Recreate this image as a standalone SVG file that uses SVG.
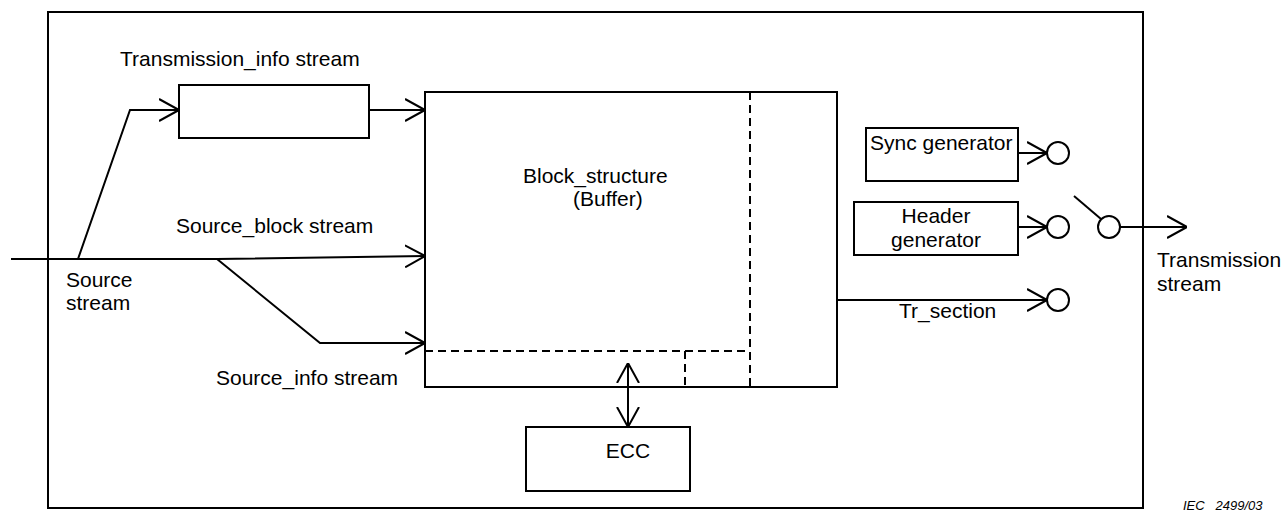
<svg xmlns="http://www.w3.org/2000/svg" width="1282" height="512" viewBox="0 0 1282 512">
<defs>
<style>
.ln{fill:none;stroke:#000;stroke-width:2}
.ds{fill:none;stroke:#000;stroke-width:2;stroke-dasharray:8,5}
.bx{fill:#fff;stroke:#000;stroke-width:2}
.t{font-family:"Liberation Sans",Arial,sans-serif;font-size:21px;fill:#000}
.c{text-anchor:middle}
</style>
<marker id="ah" viewBox="0 0 20 24" refX="20" refY="12" markerWidth="20" markerHeight="24" markerUnits="userSpaceOnUse" orient="auto">
<path d="M0,1 L20,12 L0,23" fill="none" stroke="#000" stroke-width="2"/>
</marker>
</defs>
<rect x="48" y="12" width="1095" height="496" fill="#fff" stroke="#000" stroke-width="2"/>

<g id="tinfo">
<rect class="bx" x="179" y="85" width="190" height="53"/>
<text class="t" x="120" y="66">Transmission_info stream</text>
</g>
<g id="block">
<rect class="bx" x="425" y="92" width="412" height="295"/>
<line class="ds" x1="750" y1="92" x2="750" y2="387"/>
<line class="ds" x1="425" y1="351" x2="750" y2="351"/>
<line class="ds" x1="685" y1="351" x2="685" y2="387"/>
<text class="t" x="523" y="183">Block_structure</text>
<text class="t" x="573" y="206">(Buffer)</text>
</g>
<g id="ecc">
<rect class="bx" x="526" y="427" width="164" height="64"/>
<text class="t c" x="628" y="458">ECC</text>
</g>
<g id="sync">
<rect class="bx" x="866" y="128" width="152" height="53"/>
<text class="t" x="870" y="150">Sync generator</text>
<circle class="bx" cx="1058" cy="153" r="11"/>
</g>
<g id="header">
<rect class="bx" x="854" y="202" width="164" height="53"/>
<text class="t c" x="936" y="223">Header</text>
<text class="t c" x="936" y="247">generator</text>
<circle class="bx" cx="1058" cy="227" r="11"/>
</g>
<g id="trsec">
<circle class="bx" cx="1058" cy="300" r="11"/>
<text class="t" x="899" y="318">Tr_section</text>
</g>
<g id="switch">
<circle class="bx" cx="1109" cy="227" r="11"/>
<line class="ln" x1="1074" y1="196" x2="1101" y2="219"/>
</g>
<g id="labels">
<text class="t" x="176" y="233">Source_block stream</text>
<text class="t" x="216" y="385">Source_info stream</text>
<text class="t" x="66" y="287">Source</text>
<text class="t" x="66" y="310">stream</text>
<text class="t" x="1157" y="267">Transmission</text>
<text class="t" x="1157" y="291">stream</text>
<text x="1183" y="510" font-family="Liberation Sans,Arial,sans-serif" font-size="13" font-style="italic" xml:space="preserve">IEC   2499/03</text>
</g>
<g id="connectors">
<polyline class="ln" points="11,259 217,259 425,256" marker-end="url(#ah)"/>
<polyline class="ln" points="78,259 130,110 179,110" marker-end="url(#ah)"/>
<line class="ln" x1="369" y1="110" x2="425" y2="110" marker-end="url(#ah)"/>
<polyline class="ln" points="217,259 320,343 425,343" marker-end="url(#ah)"/>
<line class="ln" x1="628" y1="395" x2="628" y2="363" marker-end="url(#ah)"/>
<line class="ln" x1="628" y1="395" x2="628" y2="427" marker-end="url(#ah)"/>
<line class="ln" x1="1018" y1="153" x2="1047" y2="153" marker-end="url(#ah)"/>
<line class="ln" x1="1018" y1="227" x2="1047" y2="227" marker-end="url(#ah)"/>
<line class="ln" x1="837" y1="300" x2="1047" y2="300" marker-end="url(#ah)"/>
<line class="ln" x1="1120" y1="227" x2="1187" y2="227" marker-end="url(#ah)"/>
</g>
</svg>
